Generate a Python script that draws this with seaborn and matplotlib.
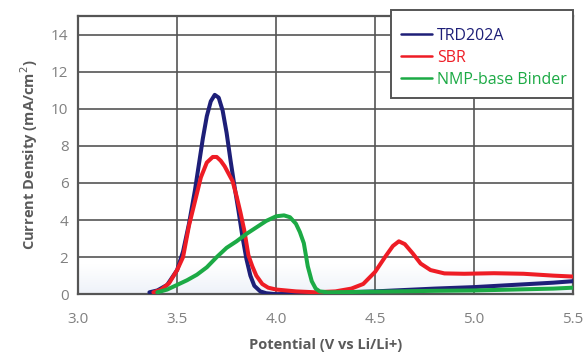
import numpy as np
import pandas as pd
import matplotlib
matplotlib.use("Agg")
import matplotlib.pyplot as plt
import seaborn as sns

# values
trd_x = [3.36, 3.40, 3.45, 3.50, 3.53, 3.56, 3.59, 3.61, 3.63, 3.65, 3.67, 3.69, 3.71,
         3.73, 3.75, 3.77, 3.79, 3.81, 3.83, 3.85, 3.87, 3.89, 3.92, 3.95, 4.00, 4.20,
         4.50, 4.80, 5.00, 5.20, 5.40, 5.50]
trd_y = [0.1, 0.2, 0.5, 1.3, 2.3, 3.8, 5.6, 7.0, 8.4, 9.6, 10.4, 10.75, 10.6,
         9.9, 8.7, 7.2, 5.8, 4.5, 3.1, 1.9, 1.0, 0.45, 0.15, 0.05, 0.0, 0.05,
         0.15, 0.3, 0.38, 0.5, 0.62, 0.7]

sbr_x = [3.38, 3.42, 3.46, 3.50, 3.53, 3.56, 3.59, 3.62, 3.65, 3.68, 3.70, 3.72, 3.74,
         3.76, 3.78, 3.80, 3.82, 3.84, 3.86, 3.88, 3.90, 3.93, 3.96, 4.00, 4.10, 4.20,
         4.30, 4.38, 4.44, 4.50, 4.55, 4.59, 4.62, 4.65, 4.69, 4.73, 4.78, 4.85, 4.95,
         5.10, 5.25, 5.40, 5.50]
sbr_y = [0.1, 0.25, 0.6, 1.3, 2.0, 3.7, 5.0, 6.3, 7.1, 7.4, 7.4, 7.2, 6.9,
         6.5, 6.1, 5.3, 4.4, 3.4, 2.1, 1.5, 1.0, 0.55, 0.35, 0.25, 0.15, 0.1,
         0.15, 0.3, 0.55, 1.2, 2.0, 2.6, 2.85, 2.7, 2.2, 1.65, 1.3, 1.12, 1.1,
         1.13, 1.1, 1.0, 0.95]

nmp_x = [3.40, 3.45, 3.50, 3.55, 3.60, 3.65, 3.70, 3.75, 3.80, 3.85, 3.90, 3.95, 4.00,
         4.04, 4.07, 4.10, 4.12, 4.14, 4.16, 4.18, 4.20, 4.22, 4.26, 4.40, 4.60, 4.80,
         5.00, 5.20, 5.40, 5.50]
nmp_y = [0.1, 0.25, 0.5, 0.75, 1.05, 1.45, 2.0, 2.5, 2.85, 3.25, 3.6, 3.95, 4.2,
         4.25, 4.15, 3.8, 3.35, 2.75, 1.5, 0.7, 0.3, 0.15, 0.1, 0.12, 0.15, 0.18,
         0.2, 0.25, 0.3, 0.35]

series = ["TRD202A", "SBR", "NMP-base Binder"]
colors = ["#1e1f78", "#ee1c25", "#1caa45"]

df = pd.concat([
    pd.DataFrame({"Potential": trd_x, "Current": trd_y, "Binder": series[0]}),
    pd.DataFrame({"Potential": sbr_x, "Current": sbr_y, "Binder": series[1]}),
    pd.DataFrame({"Potential": nmp_x, "Current": nmp_y, "Binder": series[2]}),
])

sns.set_style("white")
plt.rcParams["font.family"] = ["Open Sans", "DejaVu Sans"]

W, H = 583, 357
fig = plt.figure(figsize=(W / 100, H / 100), dpi=100)
ax = fig.add_axes([0.134, 0.176, 0.849, 0.779])

# faint blue wash at the bottom of the plot
grad = np.linspace(0, 1, 50).reshape(-1, 1)
ax.imshow(grad, extent=[3.0, 5.5, 0, 1.6], aspect="auto", origin="lower",
          cmap=matplotlib.colors.LinearSegmentedColormap.from_list("w", ["#eef2f9", "#ffffff"]),
          zorder=0)

sns.lineplot(data=df, x="Potential", y="Current", hue="Binder", palette=colors,
             hue_order=series, estimator=None, sort=False, lw=2.9, ax=ax, zorder=3)

ax.set_xlim(3.0, 5.5)
ax.set_ylim(0, 15)
ax.set_xticks([3.0, 3.5, 4.0, 4.5, 5.0, 5.5])
ax.set_xticklabels(["3.0", "3.5", "4.0", "4.5", "5.0", "5.5"])
ax.set_yticks(range(0, 15, 2))
ax.grid(True, color="#555555", lw=1.2, zorder=1)
ax.set_axisbelow(True)
for s in ax.spines.values():
    s.set_color("#555555")
    s.set_linewidth(1.6)
ax.tick_params(length=0, labelsize=11, labelcolor="#808080")
ax.tick_params(axis="x", pad=13)
ax.tick_params(axis="y", pad=7)

ax.set_xlabel("Potential (V vs Li/Li+)", fontsize=10.5, fontweight="bold", color="#5a5a5a", labelpad=8)
ax.set_ylabel("Current Density (mA/cm$^2$)", fontsize=10.5, fontweight="bold", color="#5a5a5a", labelpad=8)

# legend box drawn by hand: it sticks out above the plot frame
box = plt.Rectangle((391 / W, 1 - 98 / H), 182 / W, 88 / H, transform=fig.transFigure,
                    facecolor="white", edgecolor="#555555", lw=1.4, clip_on=False, zorder=4)
ax.add_patch(box)

leg = ax.legend(loc="upper left", bbox_to_anchor=(401 / W, 1 - 28 / H),
                bbox_transform=fig.transFigure, borderaxespad=0, borderpad=0,
                frameon=False, fontsize=11.5, handlelength=1.95, handletextpad=0.3,
                labelspacing=0.36)
leg.set_title(None)
leg.set_zorder(5)
for t, c in zip(leg.get_texts(), colors):
    t.set_color(c)
for h in leg.get_lines():
    h.set_linewidth(1.8)

fig.savefig("out.png", dpi=100)
